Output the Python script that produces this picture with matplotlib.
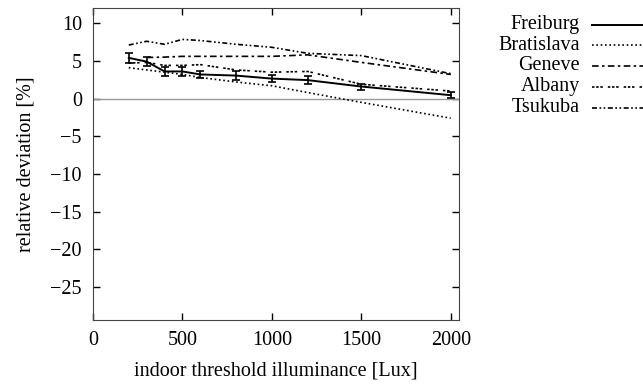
import matplotlib
matplotlib.use("Agg")
import matplotlib.pyplot as plt
from matplotlib.lines import Line2D

plt.rcParams['font.family'] = ['Liberation Serif', 'DejaVu Serif']
plt.rcParams['font.size'] = 14.5

# data
lux = [200, 300, 400, 500, 600, 800, 1000, 1200, 1500, 2000]
freiburg = [5.4, 4.9, 3.6, 3.6, 3.2, 3.05, 2.65, 2.45, 1.6, 0.45]
freiburg_err = [0.7, 0.6, 0.65, 0.6, 0.5, 0.6, 0.45, 0.5, 0.4, 0.4]
bratislava = [4.1, 3.8, 3.5, 3.2, 2.8, 2.2, 1.7, 0.8, -0.5, -2.6]
albany = [4.7, 4.8, 4.4, 4.4, 4.5, 3.8, 3.5, 3.6, 1.9, 1.0]
lux_geneve = [300, 400, 500, 600, 800, 1000, 1200, 1500, 2000]
geneve = [5.45, 5.5, 5.6, 5.6, 5.6, 5.6, 5.8, 4.8, 3.2]
tsukuba = [7.1, 7.6, 7.2, 7.85, 7.7, 7.2, 6.8, 6.0, 5.7, 3.3]

names = ["Freiburg", "Bratislava", "Geneve", "Albany", "Tsukuba"]
styles = ["-", (0, (1, 1.6)), (0, (4, 2, 1.5, 2)),
          (0, (1.5, 1, 1.5, 1, 1.5, 3)), (0, (3, 1.5, 1, 1.5, 1, 1.5))]

fig = plt.figure(figsize=(6.43, 3.85), dpi=100)
ax = fig.add_axes([0.1446, 0.168, 0.5692, 0.811])

ax.axhline(0, color="#999999", lw=1.0)
ax.errorbar(lux, freiburg, yerr=freiburg_err, color="black", lw=1.4,
            ls=styles[0], capsize=3, elinewidth=1.2, capthick=1.2)
ax.plot(lux, bratislava, color="black", lw=1.2, ls=styles[1])
ax.plot(lux_geneve, geneve, color="black", lw=1.2, ls=styles[2])
ax.plot(lux, albany, color="black", lw=1.2, ls=styles[3])
ax.plot(lux, tsukuba, color="black", lw=1.2, ls=styles[4])

ax.set_xlim(0, 2046)
ax.set_ylim(-29.4, 12)
ax.set_xticks([0, 500, 1000, 1500, 2000])
ax.set_yticks([-25, -20, -15, -10, -5, 0, 5, 10])
ax.tick_params(direction="in", top=True, right=True, length=5, width=1, pad=8)
for s in ax.spines.values():
    s.set_color("#444444")
ax.set_xlabel("indoor threshold illuminance [Lux]", labelpad=8)
ax.set_ylabel("relative deviation [%]", labelpad=11)

# legend outside, text right aligned then line sample
ys = [24.7, 45.3, 66.0, 87.0, 108.0]
for n, st, y in zip(names, styles, ys):
    fy = 1 - y / 385.0
    fig.text(580 / 643.0, fy, n, ha="right", va="center")
    fig.add_artist(Line2D([592 / 643.0, 643 / 643.0], [fy, fy], color="black",
                          lw=1.4 if st == "-" else 1.2, ls=st,
                          transform=fig.transFigure))

fig.savefig("out.png", dpi=100)
